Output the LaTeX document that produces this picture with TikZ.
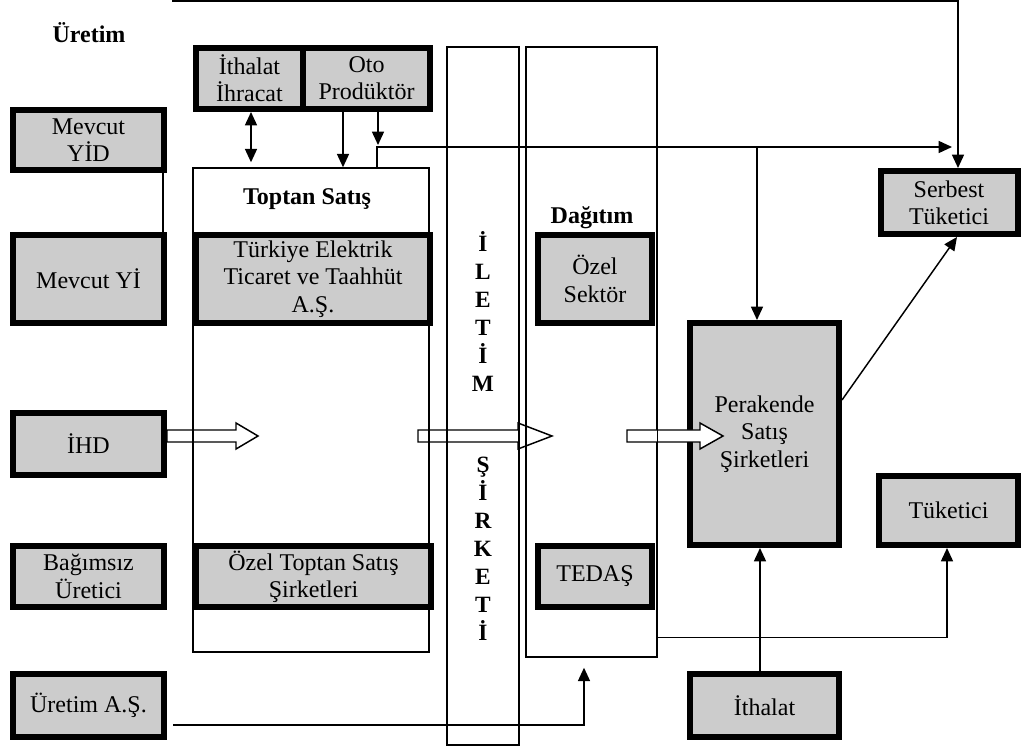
\documentclass[tikz,border=0pt]{standalone}
\usepackage{fontspec}
\setmainfont{Liberation Serif}
\usetikzlibrary{arrows.meta,calc}
\definecolor{boxgray}{RGB}{204,204,204}
\begin{document}
\begin{tikzpicture}[x=0.75pt,y=-0.75pt,
  gbox/.style={draw=black, line width=4.5pt, fill=boxgray, inner sep=0pt, align=center, font=\fontsize{18}{20.5}\selectfont},
  col/.style={draw=black, line width=1.1pt, inner sep=0pt},
  conn/.style={line width=1.1pt},
  arr/.style={conn, -{Triangle[length=10pt,width=9pt]}},
  darr/.style={conn, {Triangle[length=10pt,width=9pt]}-{Triangle[length=10pt,width=9pt]}},
  harr/.style={draw=black, line width=1.1pt, fill=white, line join=miter},
  ttl/.style={inner sep=0pt, font=\bfseries\fontsize{18}{21}\selectfont},
  vtxt/.style={inner sep=0pt, align=center, font=\bfseries\fontsize{17.5}{21}\selectfont}]
\useasboundingbox (0,0) rectangle (1025,748);

% hollow arrows 1 and 2 (below the column outlines)
\draw[harr] (167,430) -- (236,430) -- (236,423) -- (258,436) -- (236,449) -- (236,442) -- (167,442) -- cycle;
\draw[harr] (418,430) -- (518,430) -- (518,423) -- (552,436) -- (518,449) -- (518,442) -- (418,442) -- cycle;

% columns
\node[col, minimum width=177pt, minimum height=363pt] (toptan) at (311,410) {};
\node[col, minimum width=54pt, minimum height=523.5pt] (iletim) at (483,396) {};
\node[col, minimum width=98.25pt, minimum height=457.5pt] (dag) at (591.5,352) {};

% titles
\node[ttl] (uretimT) at (89,33) {Üretim};
\node[ttl] (toptanT) at (307,199) {Toptan Satış};
\node[ttl] (dagT) at (592,218) {Dağıtım};
\node[vtxt] (ilet1) at (483,312) {İ\\L\\E\\T\\İ\\M};
\node[vtxt] (ilet2) at (483,549) {Ş\\İ\\R\\K\\E\\T\\İ};

% grey boxes
\node[gbox, minimum width=113.25pt, minimum height=45pt] (yid) at (88.5,140) {Mevcut\\YİD};
\node[gbox, minimum width=113.25pt, minimum height=66pt] (yi) at (88.5,279) {Mevcut Yİ};
\node[gbox, minimum width=113.25pt, minimum height=46.5pt] (ihd) at (88.5,444) {İHD};
\node[gbox, minimum width=113.25pt, minimum height=45.75pt] (bag) at (88.5,576.5) {Bağımsız\\Üretici};
\node[gbox, minimum width=113.25pt, minimum height=47.25pt] (uas) at (88.5,705.5) {Üretim A.Ş.};

\node[gbox, minimum width=80.25pt, minimum height=45.75pt] (ithalat) at (249.5,78.5) {İthalat\\İhracat};
\node[gbox, minimum width=95.25pt, minimum height=45.75pt] (oto) at (366.5,78.5) {Oto\\Prodüktör};

\node[gbox, minimum width=175.5pt, minimum height=66pt] (teias) at (313,279) {Türkiye Elektrik\\Ticaret ve Taahhüt\\A.Ş.};
\node[gbox, minimum width=176.25pt, minimum height=45.75pt] (ozeltop) at (313.5,576.5) {Özel Toptan Satış\\Şirketleri};

\node[gbox, minimum width=85.5pt, minimum height=66pt] (ozelsek) at (595,279) {Özel\\Sektör};
\node[gbox, minimum width=85.5pt, minimum height=45.75pt] (tedas) at (595,576.5) {TEDAŞ};

\node[gbox, minimum width=111.75pt, minimum height=166.5pt] (perakende) at (764.5,434) {Perakende\\Satış\\Şirketleri};
\node[gbox, minimum width=111.75pt, minimum height=47.25pt] (ithalat2) at (764.5,705.5) {İthalat};

\node[gbox, minimum width=102.75pt, minimum height=47.25pt] (serbest) at (949,202.5) {Serbest\\Tüketici};
\node[gbox, minimum width=104.25pt, minimum height=51.75pt] (tuketici) at (948.5,510.5) {Tüketici};

% hollow arrow 3 (over Perakende) and Dagitim right edge redrawn
\draw[harr] (627,430) -- (700,430) -- (700,423) -- (723,436) -- (700,449) -- (700,442) -- (627,442) -- cycle;
\draw[conn] (dag.north east) -- (dag.south east);

% connectors
\coordinate (tl) at (172,1);
\coordinate (tr) at (958,1);
\draw[arr] (tl) -- (tr) -- (tr |- serbest.north);

\draw[conn] ($(yid.south east)+(-4,0)$) -- ($(yi.north east)+(-4,0)$);

\draw[darr] ($(ithalat.south)+(1.5,0)$) -- ($(ithalat.south |- toptan.north)+(1.5,-5)$);
\draw[arr] ($(oto.south)+(-23.5,0)$) -- ($(oto.south |- toptan.north)+(-23.5,0)$);
\draw[arr] ($(oto.south)+(11.5,0)$) -- ($(oto.south)+(11.5,33)$);

\coordinate (j1) at (377,147);
\coordinate (jr) at (952,147);
\coordinate (j2) at (757,147);
\draw[arr] (toptan.north -| j1) -- (j1) -- (jr);
\draw[arr] (j2) -- (j2 |- perakende.north);

\draw[arr] ($(perakende.north east)+(0,80)$) -- ($(serbest.south)+(8,0)$);
\draw[arr] ($(ithalat2.north)+(-4.5,0)$) -- ($(perakende.south)+(-4.5,0)$);
\draw[arr] ($(dag.south east)+(0,-20)$) -| ($(tuketici.south)+(-1.5,0)$);
\draw[arr] ($(uas.east)+(6,19.5)$) -| ($(dag.south)+(-7.5,10)$);
\end{tikzpicture}
\end{document}
